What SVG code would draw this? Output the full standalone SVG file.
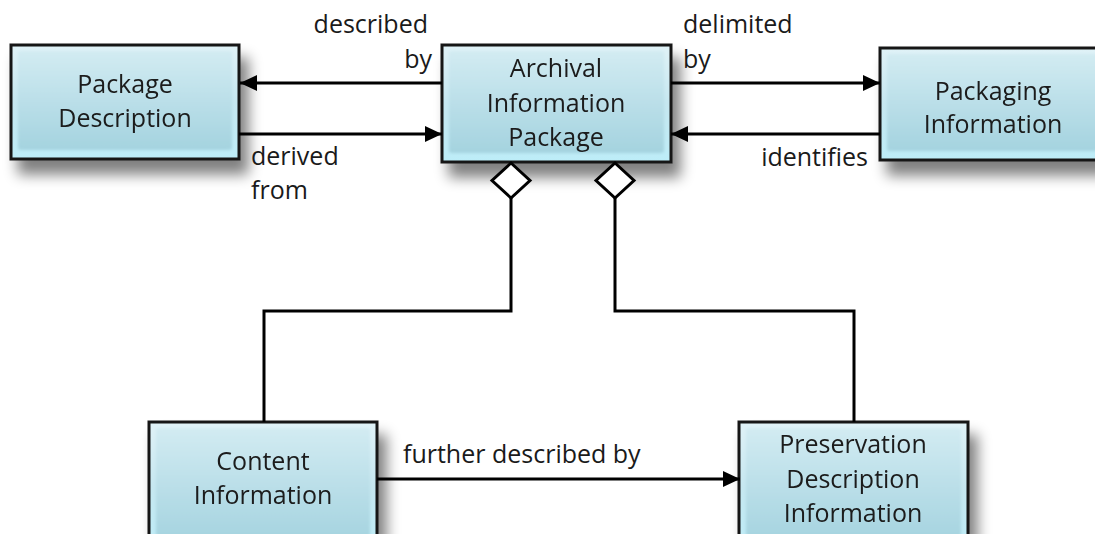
<svg xmlns="http://www.w3.org/2000/svg" width="1095" height="534" viewBox="0 0 1095 534">
<style>
  .t { font-family: "Open Sans", "Liberation Sans", sans-serif; font-size: 25px; fill: #1a1a1a; }
  .c { text-anchor: middle; }
  .box { stroke: #141414; stroke-width: 3; fill: url(#gOuter); }
  .inner { fill: url(#gInner); stroke: none; }
  .ln { fill: none; stroke: #000; stroke-width: 3; }
</style>
<defs>
  <linearGradient id="gOuter" x1="0" y1="0" x2="0" y2="1">
    <stop offset="0" stop-color="#e0f2f7"/>
    <stop offset="0.5" stop-color="#c6e7f0"/>
    <stop offset="1" stop-color="#bdedf8"/>
  </linearGradient>
  <linearGradient id="gInner" x1="0" y1="0" x2="0" y2="1">
    <stop offset="0" stop-color="#d2ebf2"/>
    <stop offset="1" stop-color="#a4d3df"/>
  </linearGradient>
  <filter id="sh" x="-20%" y="-20%" width="150%" height="170%">
    <feGaussianBlur in="SourceAlpha" stdDeviation="7"/>
    <feOffset dx="8" dy="14" result="b"/>
    <feComponentTransfer><feFuncA type="linear" slope="0.5"/></feComponentTransfer>
    <feMerge><feMergeNode/><feMergeNode in="SourceGraphic"/></feMerge>
  </filter>
  <filter id="soft" x="-5%" y="-5%" width="110%" height="110%">
    <feGaussianBlur stdDeviation="1.5"/>
  </filter>
  <marker id="arr" markerUnits="userSpaceOnUse" markerWidth="17" markerHeight="16" refX="17" refY="8" orient="auto" viewBox="0 0 17 16">
    <path d="M0,0 L17,8 L0,16 Z" fill="#000"/>
  </marker>
  <marker id="dia" markerUnits="userSpaceOnUse" markerWidth="40" markerHeight="42" refX="1" refY="20" orient="auto" viewBox="0 0 40 40" overflow="visible">
    <path d="M1,20 L18.5,1 L36,20 L18.5,39 Z" fill="#fff" stroke="#000" stroke-width="3" stroke-linejoin="miter"/>
  </marker>
</defs>
<rect width="1095" height="534" fill="#fff"/>

<g id="package-description" filter="url(#sh)">
  <rect class="box" x="11" y="45" width="228" height="114"/>
  <rect class="inner" x="18" y="51" width="214" height="99" rx="3" filter="url(#soft)"/>
  <text class="t c" x="125" y="93">Package</text>
  <text class="t c" x="125" y="127">Description</text>
</g>

<g id="archival-information-package" filter="url(#sh)">
  <rect class="box" x="442" y="45" width="229" height="117"/>
  <rect class="inner" x="449" y="51" width="215" height="102" rx="3" filter="url(#soft)"/>
  <text class="t c" x="556" y="77">Archival</text>
  <text class="t c" x="556" y="112">Information</text>
  <text class="t c" x="556" y="146">Package</text>
</g>

<g id="packaging-information" filter="url(#sh)">
  <rect class="box" x="880" y="48" width="226" height="112"/>
  <rect class="inner" x="887" y="54" width="212" height="97" rx="3" filter="url(#soft)"/>
  <text class="t c" x="993" y="100">Packaging</text>
  <text class="t c" x="993" y="133">Information</text>
</g>

<g id="content-information" filter="url(#sh)">
  <rect class="box" x="149" y="422" width="228" height="130"/>
  <rect class="inner" x="156" y="428" width="214" height="115" rx="3" filter="url(#soft)"/>
  <text class="t c" x="263" y="470">Content</text>
  <text class="t c" x="263" y="504">Information</text>
</g>

<g id="preservation-description-information" filter="url(#sh)">
  <rect class="box" x="739" y="422" width="229" height="130"/>
  <rect class="inner" x="746" y="428" width="215" height="115" rx="3" filter="url(#soft)"/>
  <text class="t c" x="853" y="453">Preservation</text>
  <text class="t c" x="853" y="488">Description</text>
  <text class="t c" x="853" y="522">Information</text>
</g>

<g id="connectors">
  <path class="ln" d="M442,83 L240,83" marker-end="url(#arr)"/>
  <path class="ln" d="M239,134 L442,134" marker-end="url(#arr)"/>
  <path class="ln" d="M671,83 L880,83" marker-end="url(#arr)"/>
  <path class="ln" d="M880,134 L671,134" marker-end="url(#arr)"/>
  <path class="ln" d="M377,479 L740,479" marker-end="url(#arr)"/>
  <path class="ln" d="M511,163 L511,311 L264,311 L264,422" marker-start="url(#dia)"/>
  <path class="ln" d="M615,163 L615,311 L854,311 L854,422" marker-start="url(#dia)"/>
  <text class="t" x="428" y="33" text-anchor="end">described</text>
  <text class="t" x="432" y="68" text-anchor="end">by</text>
  <text class="t" x="683" y="33">delimited</text>
  <text class="t" x="683" y="68">by</text>
  <text class="t" x="251" y="165">derived</text>
  <text class="t" x="251" y="199">from</text>
  <text class="t" x="868" y="166" text-anchor="end">identifies</text>
  <text class="t" x="403" y="463">further described by</text>
</g>
</svg>
